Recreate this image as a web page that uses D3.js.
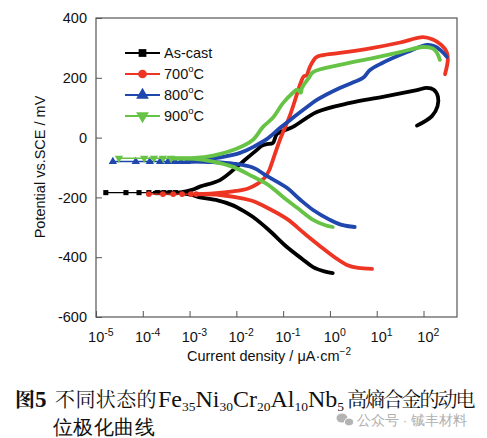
<!DOCTYPE html>
<html><head><meta charset="utf-8">
<script src="https://cdn.jsdelivr.net/npm/d3@7"></script>
<style>
html,body{margin:0;padding:0;background:#fff;}
svg{display:block;}
text{font-family:"Liberation Sans",Arial,sans-serif;}
</style></head>
<body><svg id="c" width="487" height="438"></svg>
<script>
// ---- data (log10 current density in µA·cm^-2, potential in mV) ----
const seriesNames = ["As-cast", "700\u00B0C", "800\u00B0C", "900\u00B0C"];
const xTickExps = [-5, -4, -3, -2, -1, 0, 1, 2];
const yTicks = [400, 200, 0, -200, -400, -600];

const ecorr = [-184, -189, -80, -69];
const plateauMarkers = [
  [-4.79, -4.36, -4.08, -3.87, -3.68, -3.55, -3.42, -3.3],
  [-3.87, -3.57, -3.35, -3.16, -2.97, -2.86],
  [-4.64, -4.15, -3.85, -3.63, -3.46, -3.31, -3.18, -3.06],
  [-4.51, -3.97, -3.76, -3.57, -3.4]
];
const asCastAnodic = [[-3.75,-184],[-3.2,-183],[-2.95,-175],[-2.78,-164],[-2.35,-142],[-1.99,-98],[-1.82,-75],[-1.56,-41],[-1.45,-27],[-1.35,-22],[-1.22,-18],[-1.13,12],[-0.79,36],[-0.28,86],[0.43,116],[1.13,136],[1.86,159],[2.07,166],[2.22,160],[2.31,136],[2.3,105],[2.18,72],[1.86,40]];
const asCastCathodic = [[-3.75,-184],[-3.2,-186],[-2.95,-192],[-2.78,-200],[-2.4,-210],[-2.1,-225],[-1.85,-245],[-1.65,-265],[-1.3,-310],[-0.92,-366],[-0.6,-405],[-0.36,-433],[-0.1,-448],[0.06,-453]];
const t700Anodic = [[-2.8,-189],[-2.5,-187],[-2.07,-180],[-1.75,-170],[-1.55,-155],[-1.4,-135],[-1.3,-110],[-1.22,-75],[-1.07,-8],[-0.85,76],[-0.62,185],[-0.56,205],[-0.5,208],[-0.43,236],[-0.3,268],[-0.15,276],[0.21,283],[0.92,300],[1.5,318],[1.99,336],[2.2,328],[2.38,310],[2.5,285],[2.52,260],[2.46,212]];
const t700Cathodic = [[-2.8,-189],[-2.35,-192],[-1.99,-200],[-1.65,-212],[-1.3,-238],[-0.92,-272],[-0.55,-320],[-0.21,-363],[0.1,-400],[0.35,-425],[0.6,-436],[0.9,-439]];
const t800Anodic = [[-3.0,-80],[-2.7,-76],[-2.41,-68],[-1.92,-51],[-1.6,-28],[-1.35,-5],[-1.07,32],[-0.85,59],[-0.49,102],[-0.28,126],[0.21,166],[0.5,185],[0.71,200],[0.85,225],[1.1,248],[1.65,286],[2.07,310],[2.25,305],[2.38,290],[2.5,270]];
const t800Cathodic = [[-3.0,-80],[-2.5,-82],[-2.07,-87],[-1.65,-100],[-1.35,-128],[-0.92,-168],[-0.64,-207],[-0.36,-242],[0.0,-275],[0.25,-292],[0.53,-299]];
const t900Anodic = [[-3.4,-69],[-2.9,-68],[-2.5,-60],[-2.01,-38],[-1.65,-8],[-1.43,36],[-1.22,66],[-1.0,116],[-0.79,150],[-0.7,160],[-0.62,150],[-0.6,165],[-0.45,200],[-0.36,219],[0.21,243],[0.92,266],[1.5,286],[1.99,303],[2.2,298],[2.29,283],[2.35,260]];
const t900Cathodic = [[-3.4,-69],[-2.9,-71],[-2.5,-80],[-2.07,-98],[-1.65,-130],[-1.35,-155],[-0.92,-209],[-0.64,-242],[-0.36,-275],[-0.1,-293],[0.06,-299]];

const colors = ["#000000", "#ee3524", "#1f47ad", "#67c346"];
const anodic = [asCastAnodic, t700Anodic, t800Anodic, t900Anodic];
const cathodic = [asCastCathodic, t700Cathodic, t800Cathodic, t900Cathodic];

// ---- layout ----
const svg = d3.select("#c");
const x = d3.scaleLog().domain([1e-5, 520]).range([96, 457]);
const y = d3.scaleLinear().domain([-600, 400]).range([317, 18]);
const P = v => Math.pow(10, v);

const symType = [d3.symbolSquare, d3.symbolCircle, d3.symbolTriangle, d3.symbolTriangle];
const symRot = [0, 0, 0, 180];

// axes
const yAxis = d3.axisLeft(y).tickValues(yTicks).tickSizeInner(-6).tickSizeOuter(0).tickPadding(9)
  .tickFormat(d => d);
const gy = svg.append("g").attr("transform", "translate(96,0)").call(yAxis);
gy.select(".domain").remove();
gy.selectAll("line").attr("stroke", "#555");
gy.selectAll("text").attr("font-size", 14.5).attr("fill", "#111")
  .attr("font-family", "Liberation Sans, Arial, sans-serif");

const xAxis = d3.axisBottom(x).tickValues(xTickExps.map(P)).tickSizeInner(-6).tickSizeOuter(0).tickPadding(15)
  .tickFormat(() => "");
const gx = svg.append("g").attr("transform", "translate(0,317)").call(xAxis);
gx.select(".domain").remove();
gx.selectAll("line").attr("stroke", "#555");
gx.selectAll("text").each(function(d, i) {
  const t = d3.select(this).attr("font-size", 14.5).attr("fill", "#111")
    .attr("font-family", "Liberation Sans, Arial, sans-serif").attr("dx", "0.3em");
  t.append("tspan").text("10");
  t.append("tspan").attr("font-size", 10.5).attr("dy", "-0.6em").text(xTickExps[i]);
});

// frame
svg.append("rect").attr("x", x.range()[0]).attr("y", y.range()[1])
  .attr("width", x.range()[1] - x.range()[0]).attr("height", y.range()[0] - y.range()[1])
  .attr("fill", "none").attr("stroke", "#555").attr("stroke-width", 1.2);

// axis titles
svg.append("text").attr("x", 269).attr("y", 361).attr("text-anchor", "middle")
  .attr("font-size", 14.5).attr("fill", "#111")
  .html('Current density / \u03BCA\u00B7cm<tspan font-size="10" dy="-0.6em">\u22122</tspan>');
svg.append("text").attr("transform", "translate(45,167) rotate(-90)").attr("text-anchor", "middle")
  .attr("font-size", 14.5).attr("fill", "#111").text("Potential vs.SCE / mV");

// curves
const line = d3.line().x(d => x(P(d[0]))).y(d => y(d[1])).curve(d3.curveCatmullRom.alpha(0.5));
const plot = svg.append("g");
for (let s = 0; s < 4; s++) {
  const g = plot.append("g");
  const pm = plateauMarkers[s];
  const start = anodic[s][0][0];
  g.append("path").attr("d", d3.line().x(d => x(P(d[0]))).y(d => y(d[1]))([[pm[0], ecorr[s]], [start, ecorr[s]]]))
    .attr("fill", "none").attr("stroke", colors[s]).attr("stroke-width", 1.4);
  g.selectAll("path.m").data(pm).join("path").attr("class", "m")
    .attr("transform", d => `translate(${x(P(d))},${y(ecorr[s])}) rotate(${symRot[s]})`)
    .attr("d", d3.symbol().type(symType[s]).size(s >= 2 ? 30 : 26)).attr("fill", colors[s]);
  [cathodic[s], anodic[s]].forEach(arr => {
    g.append("path").attr("d", line(arr)).attr("fill", "none").attr("stroke", colors[s])
      .attr("stroke-width", 3.8).attr("stroke-linecap", "round").attr("stroke-linejoin", "round");
  });
}

// legend
const legY = [53, 74, 95, 116];
seriesNames.forEach((name, s) => {
  const g = svg.append("g");
  g.append("line").attr("x1", 125).attr("x2", 160).attr("y1", legY[s]).attr("y2", legY[s])
    .attr("stroke", colors[s]).attr("stroke-width", 1.8);
  g.append("path").attr("transform", `translate(142.5,${legY[s]}) rotate(${symRot[s]})`)
    .attr("d", d3.symbol().type(symType[s]).size(s >= 2 ? 70 : 60)).attr("fill", colors[s]);
  const t = g.append("text").attr("x", 164).attr("y", legY[s] + 5).attr("font-size", 14.5).attr("fill", "#111");
  if (s === 0) t.text(name);
  else {
    t.append("tspan").text(name.slice(0, 3));
    t.append("tspan").attr("font-size", 9.5).attr("dy", "-0.7em").text("o");
    t.append("tspan").attr("dy", "0.45em").text("C");
  }
});

// caption
const serif = '"Liberation Serif","Times New Roman",serif';
const cjk = '"Noto Serif CJK SC","Noto Sans CJK SC",serif';
const cap = svg.append("text").attr("x", 15).attr("y", 407).attr("fill", "#111");
cap.append("tspan").attr("font-family", cjk).attr("font-weight", "bold").attr("font-size", 20).text("图");
cap.append("tspan").attr("font-family", serif).attr("font-weight", "bold").attr("font-size", 23).text("5");
cap.append("tspan").attr("x", 55).attr("font-family", cjk).attr("font-size", 20)
  .attr("letter-spacing", 0.4).text("不同状态的");
const formula = [["Fe","35"],["Ni","30"],["Cr","20"],["Al","10"],["Nb","5"]];
formula.forEach(([el, sub], i) => {
  const e = cap.append("tspan").attr("font-family", serif).attr("font-size", 24).attr("dy", i ? -4 : 0).text(el);
  if (i === 0) e.attr("x", 158);
  cap.append("tspan").attr("font-family", serif).attr("font-size", 13.5).attr("dy", 4).text(sub);
});
cap.append("tspan").attr("x", 347).attr("dy", -4).attr("font-family", cjk).attr("font-size", 20)
  .attr("letter-spacing", -1.9).text("高熵合金的动电");
svg.append("text").attr("x", 53).attr("y", 434).attr("fill", "#111")
  .attr("font-family", cjk).attr("font-size", 20).attr("letter-spacing", 0.4).text("位极化曲线");

// watermark
const wm = svg.append("g").attr("fill", "#b3b3b3");
wm.append("ellipse").attr("cx", 342).attr("cy", 418).attr("rx", 5.5).attr("ry", 4.6);
wm.append("ellipse").attr("cx", 349).attr("cy", 422).attr("rx", 4.6).attr("ry", 3.9).attr("stroke", "#fff").attr("stroke-width", 1);
svg.append("text").attr("x", 357).attr("y", 425).attr("fill", "#b0b0b0")
  .attr("font-family", '"Noto Sans CJK SC",sans-serif').attr("font-size", 13.5).text("公众号 · 铖丰材料");
</script></body></html>
